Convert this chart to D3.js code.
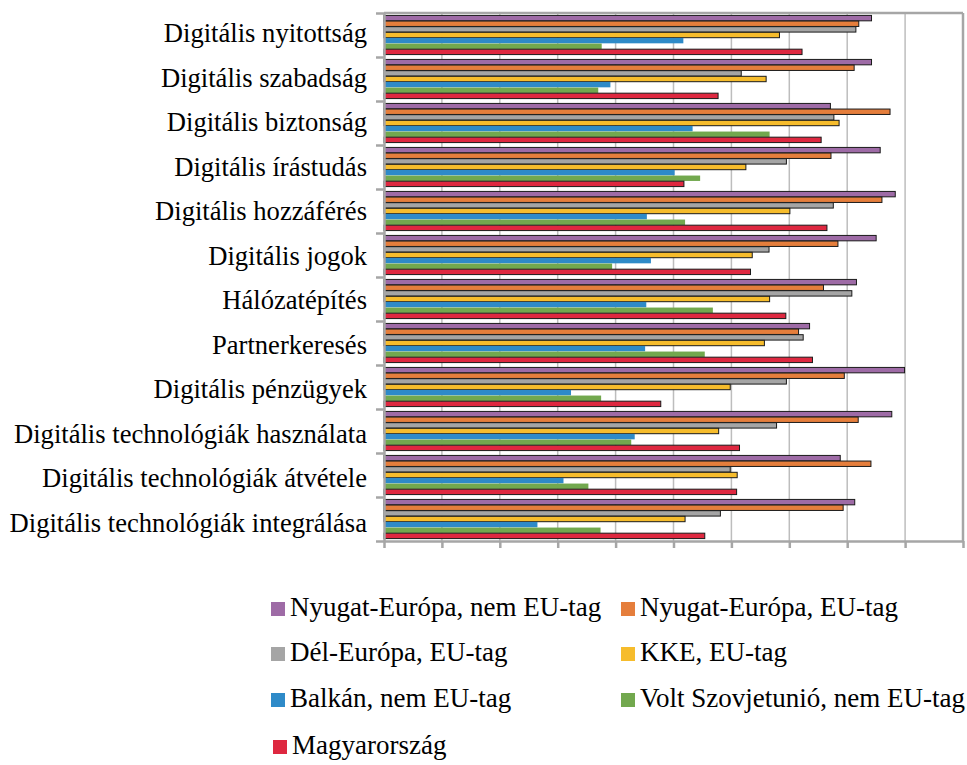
<!DOCTYPE html>
<html><head><meta charset="utf-8">
<script src="https://cdn.jsdelivr.net/npm/d3@7"></script>
<style>body{margin:0;background:#fff}svg{display:block}</style>
</head><body>
<svg id="chart" width="967" height="765"></svg>
<script>
const categories = ["Digitális nyitottság","Digitális szabadság","Digitális biztonság","Digitális írástudás","Digitális hozzáférés","Digitális jogok","Hálózatépítés","Partnerkeresés","Digitális pénzügyek","Digitális technológiák használata","Digitális technológiák átvétele","Digitális technológiák integrálása"];
const seriesNames = ["Nyugat-Európa, nem EU-tag","Nyugat-Európa, EU-tag","Dél-Európa, EU-tag","KKE, EU-tag","Balkán, nem EU-tag","Volt Szovjetunió, nem EU-tag","Magyarország"];
const nyugatNemEU = [8.42,8.42,7.71,8.57,8.83,8.50,8.16,7.35,8.99,8.77,7.88,8.13];
const nyugatEU    = [8.20,8.12,8.74,7.72,8.60,7.84,7.59,7.16,7.95,8.19,8.41,7.93];
const delEU       = [8.15,6.17,7.77,6.95,7.76,6.65,8.08,7.24,6.95,6.78,5.98,5.81];
const kkeEU       = [6.83,6.60,7.86,6.25,7.01,6.36,6.66,6.57,5.98,5.78,6.10,5.20];
const balkan      = [5.17,3.91,5.33,5.02,4.54,4.61,4.53,4.51,3.23,4.33,3.10,2.65];
const voltSzovj   = [3.76,3.70,6.66,5.46,5.20,3.94,5.68,5.54,3.75,4.27,3.53,3.74];
const magyar      = [7.22,5.77,7.55,5.18,7.65,6.33,6.94,7.40,4.78,6.14,6.09,5.54];
const seriesValues = [nyugatNemEU,nyugatEU,delEU,kkeEU,balkan,voltSzovj,magyar];
const colors = ["#9E6BA6","#E57E3C","#A5A5A5","#F6BC2C","#2E8AC8","#72A84E","#DE2840"];
const outlined = [true,true,true,true,false,false,true];
const xTicks = d3.range(0,11,1);
const FONT = "Liberation Serif";

const svg = d3.select("#chart");
const L=384, R=963, T=13, B=541;
const x = d3.scaleLinear().domain([0,10]).range([L,R]);
const y0 = d3.scaleBand().domain(categories).range([T,B]).paddingInner(0.1).paddingOuter(0.05);
const y1 = d3.scaleBand().domain(d3.range(seriesNames.length)).range([0,y0.bandwidth()]).padding(0.04);

// gridlines
svg.append("g").selectAll("line").data(xTicks.slice(1,-1)).join("line")
  .attr("x1",d=>x(d)).attr("x2",d=>x(d)).attr("y1",T).attr("y2",B)
  .attr("stroke","#BDBDBD").attr("stroke-width",1.5);

// bars
const g = svg.append("g");
categories.forEach((c,ci)=>{
  seriesValues.forEach((vals,si)=>{
    g.append("rect")
      .attr("x",x(0)).attr("y",y0(c)+y1(si))
      .attr("width",x(vals[ci])-x(0)).attr("height",y1.bandwidth())
      .attr("fill",colors[si])
      .attr("stroke",outlined[si]?"#1a1a1a":"none")
      .attr("stroke-width",outlined[si]?1:0);
  });
});

// frame: top and right
svg.append("line").attr("x1",L).attr("x2",R).attr("y1",T).attr("y2",T).attr("stroke","#A6A6A6").attr("stroke-width",2.5);
svg.append("line").attr("x1",R).attr("x2",R).attr("y1",T).attr("y2",B).attr("stroke","#A6A6A6").attr("stroke-width",2.5);

// x axis
const xAxis = d3.axisBottom(x).tickValues(xTicks).tickFormat("").tickSize(7).tickSizeOuter(0);
const xg = svg.append("g").attr("transform",`translate(0,${B})`).call(xAxis);
xg.selectAll("path,line").attr("stroke","#A6A6A6").attr("stroke-width",2.5);

// y axis
const yAxis = d3.axisLeft(d3.scaleLinear().domain([0,12]).range([T,B])).tickValues(d3.range(0,13)).tickFormat("").tickSize(8).tickSizeOuter(0);
const yg = svg.append("g").attr("transform",`translate(${L},0)`).call(yAxis);
yg.selectAll("path,line").attr("stroke","#A6A6A6").attr("stroke-width",2.5);

// category labels
svg.append("g").selectAll("text").data(categories).join("text")
  .attr("x",367).attr("y",(d,i)=>y0(d)+y0.bandwidth()/2 + 7 + i*0.5)
  .attr("text-anchor","end")
  .attr("font-family",FONT).attr("font-size",26.6)
  .attr("fill","#000").text(d=>d);

// legend
const legPos = [[271,616],[621,616],[271,661],[621,661],[271,707],[621,707],[273,754]];
const lg = svg.append("g");
seriesNames.forEach((n,i)=>{
  const [lx,ly]=legPos[i];
  lg.append("rect").attr("x",lx).attr("y",ly-14).attr("width",14).attr("height",14).attr("fill",colors[i]);
  lg.append("text").attr("x",lx+19).attr("y",ly)
    .attr("font-family",FONT).attr("font-size",27)
    .attr("fill","#000").text(n);
});
</script>
</body></html>
